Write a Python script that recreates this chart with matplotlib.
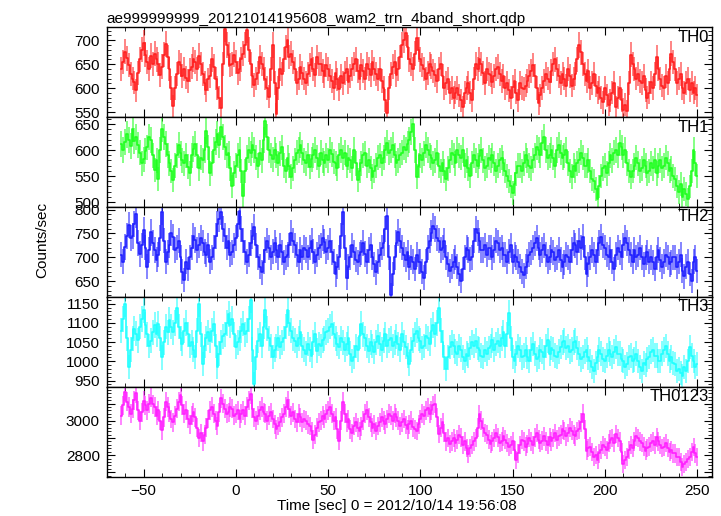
import numpy as np
import matplotlib
matplotlib.use("Agg")
import matplotlib.pyplot as plt
from matplotlib.ticker import MultipleLocator, FuncFormatter

plt.rcParams['font.family'] = ['Liberation Sans', 'DejaVu Sans']

title = "ae999999999_20121014195608_wam2_trn_4band_short.qdp"
xlabel = "Time [sec] 0 = 2012/10/14 19:56:08"
ylabel = "Counts/sec"

t_start = -62.0
bin_width = 1.0

th0 = [640, 655, 676, 662, 648, 630, 620, 612, 595, 632, 660, 680, 694, 670, 655, 640, 668, 650, 672, 660,
       650, 628, 645, 670, 692, 665, 640, 600, 562, 600, 630, 655, 648, 625, 640, 622, 615, 638, 645, 660,
       655, 640, 668, 650, 630, 610, 595, 618, 625, 660, 645, 620, 600, 580, 558, 650, 724, 690, 670, 648,
       650, 670, 655, 632, 640, 660, 672, 690, 722, 680, 650, 625, 606, 620, 632, 665, 650, 640, 620, 600,
       582, 640, 690, 610, 545, 600, 640, 630, 660, 685, 700, 665, 672, 655, 640, 610, 620, 645, 632, 620,
       610, 630, 648, 660, 640, 628, 665, 650, 650, 635, 625, 648, 640, 625, 615, 600, 632, 618, 598, 625,
       610, 632, 640, 612, 625, 640, 650, 660, 635, 620, 648, 635, 620, 650, 640, 628, 655, 640, 630, 618,
       640, 615, 600, 575, 548, 600, 630, 645, 655, 628, 640, 665, 690, 700, 715, 685, 660, 650, 640, 672,
       705, 680, 660, 648, 640, 620, 632, 650, 645, 635, 628, 615, 640, 650, 625, 600, 610, 620, 590, 600,
       580, 590, 600, 585, 575, 560, 590, 600, 610, 590, 575, 620, 650, 640, 660, 650, 632, 610, 640, 630,
       628, 612, 625, 640, 645, 630, 615, 625, 600, 610, 595, 580, 603, 615, 590, 575, 610, 600, 598, 605,
       615, 625, 636, 648, 625, 600, 568, 585, 600, 615, 630, 620, 612, 635, 650, 660, 640, 625, 610, 630,
       620, 605, 640, 625, 605, 620, 630, 660, 690, 675, 650, 630, 615, 635, 600, 610, 630, 605, 590, 600,
       580, 570, 600, 585, 565, 575, 590, 610, 560, 580, 600, 575, 555, 565, 552, 610, 670, 650, 640, 620,
       630, 615, 610, 625, 596, 580, 590, 612, 600, 630, 665, 640, 620, 605, 600, 625, 610, 640, 672, 655,
       640, 610, 620, 630, 600, 590, 610, 620, 596, 610, 590, 600, 585]

th1 = [612, 600, 615, 630, 620, 608, 640, 618, 625, 610, 595, 575, 582, 598, 605, 625, 619, 590, 562, 580,
       545, 600, 640, 625, 612, 590, 575, 560, 542, 570, 590, 610, 594, 580, 575, 590, 568, 555, 590, 602,
       612, 590, 565, 585, 580, 600, 636, 605, 555, 575, 600, 615, 630, 610, 645, 625, 605, 590, 594, 565,
       530, 555, 570, 590, 600, 560, 512, 560, 585, 600, 594, 610, 600, 585, 570, 595, 580, 620, 655, 625,
       600, 590, 582, 600, 590, 575, 594, 605, 570, 560, 585, 570, 549, 565, 580, 595, 600, 610, 595, 580,
       575, 590, 568, 582, 590, 600, 585, 570, 595, 580, 575, 590, 580, 600, 592, 578, 575, 565, 590, 600,
       585, 595, 570, 585, 580, 565, 600, 575, 542, 560, 575, 590, 594, 570, 580, 565, 549, 560, 570, 585,
       590, 575, 585, 600, 613, 595, 600, 610, 590, 575, 580, 590, 595, 605, 600, 612, 620, 635, 650, 600,
       549, 570, 590, 580, 594, 610, 600, 590, 585, 575, 580, 595, 570, 560, 575, 560, 545, 565, 580, 595,
       590, 575, 600, 590, 585, 600, 570, 580, 565, 550, 575, 590, 580, 570, 588, 600, 580, 565, 570, 585,
       580, 590, 575, 560, 570, 580, 585, 575, 560, 550, 540, 530, 518, 535, 555, 570, 570, 560, 575, 590,
       580, 570, 565, 580, 590, 605, 600, 590, 613, 625, 600, 585, 590, 600, 585, 570, 600, 610, 595, 585,
       590, 600, 575, 560, 549, 570, 560, 575, 580, 595, 585, 570, 570, 580, 560, 545, 540, 525, 505, 530,
       550, 565, 570, 555, 575, 590, 580, 595, 600, 590, 613, 605, 590, 600, 575, 560, 549, 560, 570, 585,
       575, 560, 565, 580, 570, 555, 560, 575, 565, 580, 555, 570, 580, 565, 570, 585, 575, 560, 565, 550,
       545, 530, 520, 535, 510, 525, 515, 505, 530, 560, 600, 575, 550]

th2 = [705, 690, 722, 745, 768, 740, 745, 770, 790, 730, 707, 725, 757, 720, 680, 715, 752, 730, 715, 695,
       705, 740, 795, 735, 690, 710, 725, 750, 743, 715, 720, 735, 700, 670, 652, 690, 675, 700, 720, 745,
       736, 715, 725, 740, 730, 712, 705, 725, 690, 700, 720, 745, 770, 780, 795, 760, 745, 720, 735, 705,
       710, 725, 740, 770, 798, 760, 735, 710, 690, 705, 730, 745, 764, 725, 700, 680, 668, 690, 715, 735,
       720, 700, 712, 730, 715, 700, 725, 710, 689, 700, 705, 725, 750, 735, 725, 705, 690, 715, 700, 720,
       715, 700, 720, 735, 712, 690, 705, 720, 725, 740, 733, 712, 720, 735, 710, 690, 664, 680, 700, 745,
       795, 720, 657, 680, 700, 725, 710, 695, 689, 705, 710, 730, 707, 690, 715, 725, 700, 685, 668, 690,
       705, 720, 730, 760, 786, 700, 621, 665, 700, 730, 752, 735, 720, 705, 695, 710, 679, 700, 690, 675,
       705, 690, 690, 670, 657, 690, 720, 735, 750, 765, 760, 740, 735, 715, 720, 735, 700, 685, 671, 680,
       690, 700, 680, 665, 650, 675, 700, 720, 715, 695, 700, 735, 760, 750, 735, 715, 715, 725, 705, 720,
       720, 700, 715, 735, 730, 715, 720, 705, 705, 690, 712, 725, 690, 705, 700, 690, 680, 670, 662, 680,
       690, 705, 710, 720, 729, 740, 720, 705, 715, 725, 705, 690, 700, 715, 710, 695, 700, 715, 695, 680,
       689, 705, 700, 690, 715, 730, 725, 710, 735, 720, 743, 700, 664, 685, 700, 715, 705, 690, 715, 730,
       743, 725, 720, 705, 700, 715, 690, 675, 705, 720, 710, 700, 725, 740, 730, 715, 705, 690, 715, 700,
       705, 720, 700, 685, 700, 710, 690, 700, 689, 675, 700, 715, 695, 680, 690, 705, 700, 685, 689, 700,
       700, 680, 690, 705, 672, 660, 680, 690, 665, 650, 690, 700, 671]

th3 = [1080, 1110, 1150, 1060, 985, 1030, 1060, 1085, 1072, 1055, 1090, 1110, 1133, 1095, 1070, 1040, 1054, 1075, 1095, 1070,
       1098, 1060, 1010, 1050, 1090, 1075, 1107, 1090, 1075, 1100, 1140, 1090, 1060, 1045, 1080, 1100, 1070, 1040, 1050, 1030,
       1011, 1080, 1150, 1070, 993, 1040, 1060, 1075, 1054, 1080, 1098, 1040, 985, 1020, 1050, 1065, 1070, 1100, 1124, 1095,
       1110, 1070, 1037, 1050, 1060, 1080, 1098, 1070, 1080, 1110, 1160, 1030, 941, 1010, 1054, 1070, 1040, 1090, 1133, 1085,
       1060, 1040, 1011, 1030, 1040, 1060, 1037, 1050, 1060, 1090, 1133, 1100, 1080, 1060, 1054, 1040, 1060, 1075, 1040, 1030,
       1020, 1045, 1030, 1015, 1050, 1070, 1028, 1045, 1040, 1055, 1060, 1075, 1080, 1090, 1098, 1070, 1060, 1045, 1037, 1060,
       1050, 1030, 1045, 1060, 1020, 1000, 1011, 1040, 1030, 1065, 1098, 1070, 1060, 1040, 1028, 1050, 1040, 1025, 1050, 1065,
       1045, 1030, 1054, 1070, 1040, 1055, 1060, 1040, 1050, 1065, 1045, 1030, 1070, 1050, 1037, 1015, 993, 1030, 1054, 1070,
       1080, 1060, 1054, 1035, 1040, 1065, 1060, 1045, 1080, 1095, 1070, 1100, 1140, 1080, 1050, 1010, 980, 1010, 1037, 1050,
       1040, 1025, 1020, 1040, 1030, 1010, 1000, 1020, 1015, 1035, 1050, 1040, 1054, 1035, 1030, 1015, 1011, 1030, 1020, 1035,
       1040, 1055, 1030, 1045, 1054, 1040, 1060, 1075, 1040, 1070, 1125, 1060, 1011, 1000, 1020, 1040, 1030, 1010, 1015, 1030,
       1011, 1000, 1030, 1045, 1020, 1005, 1011, 1030, 1025, 1010, 1040, 1055, 1020, 1035, 1030, 1015, 1011, 1025, 1037, 1050,
       1054, 1035, 1040, 1025, 1030, 1050, 1054, 1035, 1020, 1005, 1011, 1025, 1030, 1010, 1000, 985, 976, 995, 1010, 1030,
       1020, 1005, 1000, 1015, 1030, 1020, 1011, 1025, 1037, 1020, 1020, 1005, 1000, 985, 993, 1010, 1015, 1000, 1005, 1020,
       1000, 985, 976, 995, 990, 1005, 1011, 1025, 1030, 1015, 1015, 1000, 1000, 1020, 1030, 1040, 1020, 1000, 1010, 995,
       993, 975, 980, 970, 963, 985, 975, 1000, 1037, 1015, 1000, 985, 993]

th0123 = [3030, 3090, 3170, 3110, 3080, 3040, 3070, 3120, 3160, 3060, 3000, 3050, 3115, 3090, 3060, 3100, 3135, 3095, 3080, 3030,
          3060, 3000, 2945, 3020, 3110, 3080, 3050, 3010, 2990, 3030, 3070, 3110, 3150, 3090, 3040, 3060, 3010, 2980, 3030, 3050,
          3020, 2960, 2900, 2930, 2880, 2920, 2960, 3010, 3060, 3080, 3040, 3000, 2970, 3050, 3130, 3100, 3070, 3040, 3050, 3080,
          3070, 3030, 3040, 3060, 3010, 3040, 3060, 3030, 3080, 3120, 3155, 3070, 3020, 3000, 3030, 3060, 3080, 3050, 3040, 3000,
          3030, 3050, 3010, 2980, 2950, 2970, 2990, 3020, 3040, 3080, 3120, 3070, 3030, 3050, 3010, 2990, 3040, 3020, 2990, 3010,
          3000, 2980, 2970, 2940, 2890, 2920, 2960, 2990, 3000, 3030, 3010, 3040, 3060, 3080, 3040, 3000, 3020, 2950, 2885, 3000,
          3110, 3040, 2990, 3010, 2950, 2930, 2970, 2990, 2960, 2940, 2965, 3000, 3040, 3060, 3020, 2990, 2960, 2980, 2940, 2970,
          2990, 3020, 3000, 2980, 3010, 3040, 3030, 3000, 3040, 3020, 3000, 2970, 2990, 3010, 2975, 2950, 2980, 3000, 2962, 2950,
          2940, 2980, 3010, 3040, 3030, 3060, 3077, 3040, 3060, 3090, 3100, 3020, 2923, 2960, 2990, 2930, 2880, 2900, 2865, 2880,
          2900, 2870, 2890, 2920, 2904, 2860, 2880, 2840, 2808, 2840, 2860, 2880, 2900, 2960, 3038, 3000, 2960, 2930, 2920, 2890,
          2865, 2880, 2900, 2930, 2904, 2870, 2880, 2910, 2890, 2870, 2846, 2860, 2880, 2830, 2770, 2810, 2860, 2890, 2880, 2850,
          2865, 2900, 2880, 2860, 2904, 2930, 2890, 2870, 2885, 2910, 2880, 2860, 2904, 2880, 2900, 2930, 2890, 2910, 2920, 2950,
          2940, 2910, 2930, 2960, 2942, 2920, 2910, 2940, 2950, 2990, 3040, 2950, 2827, 2840, 2850, 2820, 2790, 2800, 2770, 2810,
          2830, 2860, 2846, 2830, 2870, 2890, 2900, 2870, 2923, 2900, 2880, 2820, 2750, 2770, 2790, 2830, 2860, 2840, 2880, 2910,
          2900, 2880, 2870, 2850, 2827, 2840, 2850, 2870, 2880, 2860, 2904, 2880, 2860, 2840, 2850, 2870, 2840, 2820, 2830, 2810,
          2810, 2790, 2790, 2760, 2730, 2750, 2760, 2780, 2788, 2820, 2846, 2810, 2788]

names = ["TH0", "TH1", "TH2", "TH3", "TH0123"]
series = [th0, th1, th2, th3, th0123]
colors = ["#ff2020", "#20ff20", "#2020ff", "#20ffff", "#ff20ff"]
ylims = [(540, 728), (491, 664), (617, 806), (934, 1168), (2675, 3198)]
ymajor = [50, 50, 50, 50, 100]
yminor = [10, 10, 10, 10, 20]

t = t_start + bin_width * np.arange(len(th0))

fig = plt.figure(figsize=(7.21, 5.16), dpi=100)
gs = fig.add_gridspec(5, 1, left=0.148, right=0.9875, top=0.948, bottom=0.0762, hspace=0)

for i, (name, vals, c) in enumerate(zip(names, series, colors)):
    ax = fig.add_subplot(gs[i])
    y = np.array(vals, dtype=float)
    err = np.sqrt(y / bin_width)
    ax.errorbar(t, y, yerr=err, fmt='none', ecolor=c, elinewidth=1.4, alpha=0.55)
    ax.step(t, y, where='mid', color=c, lw=1.2)
    ax.set_xlim(-70, 258)
    ax.set_ylim(*ylims[i])
    ax.xaxis.set_major_locator(MultipleLocator(50))
    ax.xaxis.set_minor_locator(MultipleLocator(10))
    ax.yaxis.set_major_locator(MultipleLocator(ymajor[i]))
    ax.yaxis.set_minor_locator(MultipleLocator(yminor[i]))
    if name == "TH0123":
        ax.yaxis.set_major_formatter(FuncFormatter(lambda v, p: "%d" % v if int(v) % 200 == 0 else ""))
    ax.tick_params(which='both', direction='in', top=True, right=True, labelsize=11)
    ax.tick_params(which='major', length=6, pad=5)
    ax.tick_params(which='minor', length=3)
    if i < 4:
        ax.tick_params(labelbottom=False)
    for s in ax.spines.values():
        s.set_linewidth(1.0)
    ax.text(0.995, 0.97, name, transform=ax.transAxes, ha='right', va='top', fontsize=12)
    if i == 0:
        ax.set_title(title, loc='left', fontsize=11, pad=3)

fig.text(0.551, 0.019, xlabel, ha='center', va='center', fontsize=11)
fig.text(0.058, 0.535, ylabel, rotation=90, ha='center', va='center', fontsize=11)

fig.savefig("out.png", dpi=100)
